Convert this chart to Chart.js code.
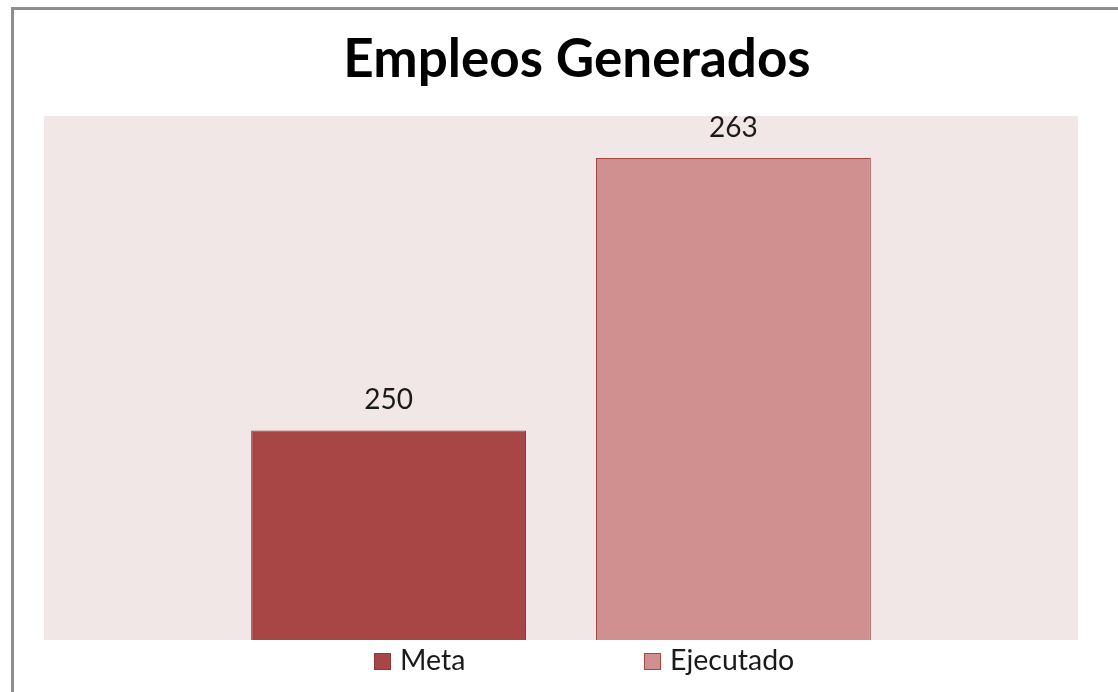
<!DOCTYPE html>
<html>
<head>
<meta charset="utf-8">
<script src="https://cdn.jsdelivr.net/npm/chart.js@4/dist/chart.umd.min.js"></script>
<style>
  html, body { margin: 0; padding: 0; background: #fff; }
  #wrap { position: relative; width: 1118px; height: 692px; overflow: hidden; }
  #frame { position: absolute; left: 11px; top: 7px; width: 1200px; height: 800px;
           border-left: 3px solid #8e8e8e; border-top: 3px solid #8e8e8e; }
  #c { position: absolute; left: 0; top: 0; }
</style>
</head>
<body>
<div id="wrap">
  <div id="frame"></div>
  <canvas id="c" width="1118" height="692"></canvas>
</div>
<script>
  // datos
  const categories = [''];
  const seriesNames = ['Meta', 'Ejecutado'];
  const metaValues = [250];
  const ejecutadoValues = [263];
  const yMin = 240;
  const yMax = 265;
  const titleText = 'Empleos Generados';

  const fills = ['#a84646', '#d19090'];
  const borders = ['#8c3838', '#a84646'];
  const FONT = "Lato, 'Open Sans', sans-serif";

  // fondo del área de trazado
  const plotBg = {
    id: 'plotBg',
    beforeDraw(chart) {
      const { ctx, chartArea: a } = chart;
      ctx.save();
      ctx.fillStyle = '#f2e7e7';
      ctx.fillRect(a.left, a.top, a.right - a.left, a.bottom - a.top);
      ctx.restore();
    }
  };

  // título centrado en el marco completo (el marco sigue fuera de la imagen)
  const frameTitle = {
    id: 'frameTitle',
    afterDraw(chart) {
      const { ctx } = chart;
      ctx.save();
      ctx.font = 'bold 53px ' + FONT;
      ctx.fillStyle = '#000';
      ctx.textAlign = 'center';
      ctx.textBaseline = 'alphabetic';
      ctx.fillText(titleText, 577, 77);
      ctx.restore();
    }
  };

  // etiquetas de valor encima de cada barra
  const valueLabels = {
    id: 'valueLabels',
    afterDatasetsDraw(chart) {
      const { ctx } = chart;
      ctx.save();
      ctx.font = '28px ' + FONT;
      ctx.fillStyle = '#1a1a1a';
      ctx.textAlign = 'center';
      ctx.textBaseline = 'middle';
      chart.data.datasets.forEach((ds, i) => {
        chart.getDatasetMeta(i).data.forEach((bar, j) => {
          ctx.fillText(String(ds.data[j]), bar.x, bar.y - 30);
        });
      });
      ctx.restore();
    }
  };

  // leyenda inferior al estilo Excel
  const bottomLegend = {
    id: 'bottomLegend',
    afterDraw(chart) {
      const { ctx } = chart;
      const xs = [374, 644];
      const y = 661;
      ctx.save();
      ctx.font = '28.5px ' + FONT;
      ctx.textBaseline = 'middle';
      chart.data.datasets.forEach((ds, i) => {
        const x = xs[i];
        ctx.fillStyle = ds.backgroundColor;
        ctx.fillRect(x, y - 8, 17, 17);
        ctx.strokeStyle = ds.borderColor;
        ctx.lineWidth = 1;
        ctx.strokeRect(x + 0.5, y - 7.5, 16, 16);
        ctx.fillStyle = '#1a1a1a';
        ctx.fillText(ds.label, x + 26, y);
      });
      ctx.restore();
    }
  };

  new Chart(document.getElementById('c'), {
    type: 'bar',
    data: {
      labels: categories,
      datasets: [
        { label: seriesNames[0], data: metaValues, backgroundColor: fills[0], borderColor: borders[0], borderWidth: 1 },
        { label: seriesNames[1], data: ejecutadoValues, backgroundColor: fills[1], borderColor: borders[1], borderWidth: 1 }
      ]
    },
    options: {
      responsive: false,
      animation: false,
      categoryPercentage: 0.667,
      barPercentage: 0.797,
      layout: { padding: { left: 44, right: 40, top: 116, bottom: 52 } },
      plugins: {
        legend: { display: false },
        tooltip: { enabled: false },
        title: { display: false }
      },
      scales: {
        x: { display: false, grid: { display: false } },
        y: { display: false, min: yMin, max: yMax, grid: { display: false } }
      }
    },
    plugins: [plotBg, valueLabels, bottomLegend, frameTitle]
  });
</script>
</body>
</html>
